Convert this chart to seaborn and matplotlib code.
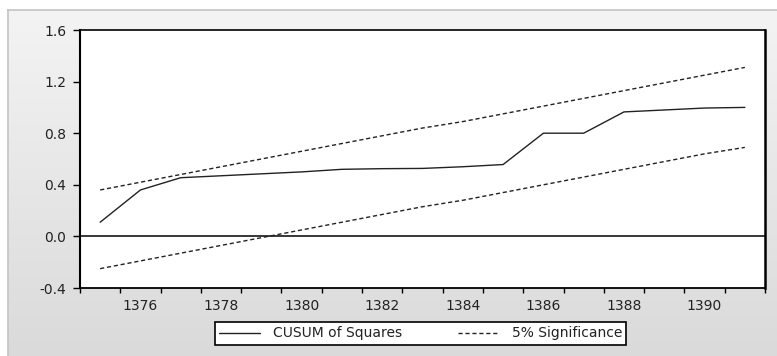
import numpy as np
import pandas as pd
import matplotlib
matplotlib.use("Agg")
import matplotlib.pyplot as plt
import seaborn as sns

# Annual observations (Iranian calendar years)
years = list(range(1375, 1392))
cusum_sq = [0.11, 0.36, 0.455, 0.47, 0.485, 0.50, 0.52, 0.525, 0.527, 0.54, 0.557,
            0.80, 0.80, 0.965, 0.98, 0.995, 1.00]
upper_5pct = [0.36, 0.42, 0.48, 0.54, 0.60, 0.66, 0.72, 0.78, 0.84, 0.89, 0.95,
              1.01, 1.07, 1.13, 1.19, 1.25, 1.31]
lower_5pct = [-0.25, -0.19, -0.13, -0.07, -0.01, 0.05, 0.11, 0.17, 0.23, 0.28, 0.34,
              0.40, 0.46, 0.52, 0.58, 0.64, 0.69]
x_tick_years = [1376, 1378, 1380, 1382, 1384, 1386, 1388, 1390]
y_ticks = [-0.4, 0.0, 0.4, 0.8, 1.2, 1.6]

df = pd.DataFrame({"year": years, "cusum": cusum_sq,
                   "upper": upper_5pct, "lower": lower_5pct})

sns.set_theme(style="white")
plt.rcParams["font.family"] = ["DejaVu Sans"]

W, H = 777, 356
fig = plt.figure(figsize=(W / 100, H / 100), dpi=100)
fig.patch.set_facecolor("white")

# Grey gradient panel behind the graph
bg = fig.add_axes([8 / W, 0, 1 - 8 / W, 1 - 10 / H], zorder=-5)
grad = np.linspace(0.955, 0.855, 256).reshape(-1, 1)
bg.imshow(np.dstack([grad, grad, grad]), aspect="auto", extent=[0, 1, 0, 1],
          origin="upper")
bg.set_xticks([])
bg.set_yticks([])
for side in ("right", "bottom"):
    bg.spines[side].set_visible(False)
for side in ("left", "top"):
    bg.spines[side].set_color("#c4c4c4")
    bg.spines[side].set_linewidth(1.2)

ax = fig.add_axes([80 / W, 1 - 288 / H, 685 / W, 258 / H])
ax.set_facecolor("white")

sns.lineplot(data=df, x="year", y="cusum", ax=ax, color="#222222", lw=1.0,
             label="CUSUM of Squares")
sns.lineplot(data=df, x="year", y="upper", ax=ax, color="#222222", lw=1.0,
             linestyle=(0, (3, 2)), label="5% Significance")
sns.lineplot(data=df, x="year", y="lower", ax=ax, color="#222222", lw=1.0,
             linestyle=(0, (3, 2)), label="_nolegend_")
ax.axhline(0.0, color="black", lw=1.1, zorder=1)

ax.set_xlim(1374.5, 1391.5)
ax.set_ylim(-0.4, 1.6)
ax.set_xticks(x_tick_years)
ax.set_xticklabels([str(y) for y in x_tick_years])
ax.set_xticks(np.arange(1374.5, 1392.0, 1.0), minor=True)
ax.set_yticks(y_ticks)
ax.set_yticklabels([f"{v:.1f}" for v in y_ticks])
ax.set_xlabel("")
ax.set_ylabel("")

ax.tick_params(axis="x", which="major", length=0, pad=8,
               labelsize=10, labelcolor="#222222")
ax.tick_params(axis="x", which="minor", length=3.5, width=1.0,
               color="black", direction="out", bottom=True)
ax.tick_params(axis="y", which="major", length=5, width=1.0, pad=5,
               color="black", direction="out", left=True,
               labelsize=10, labelcolor="#222222")

for side, lw in (("left", 1.5), ("bottom", 1.3), ("top", 1.2), ("right", 1.8)):
    ax.spines[side].set_visible(True)
    ax.spines[side].set_color("black")
    ax.spines[side].set_linewidth(lw)

leg = ax.legend(loc="center", bbox_to_anchor=(420.5 / W, 1 - 333.5 / H),
                bbox_transform=fig.transFigure, ncol=2, frameon=True,
                fancybox=False, edgecolor="black", facecolor="white",
                framealpha=1.0, fontsize=10, handlelength=3.0,
                handletextpad=0.9, columnspacing=4.0, borderpad=0.3,
                borderaxespad=0)
leg.get_frame().set_linewidth(1.2)
for t in leg.get_texts():
    t.set_color("#222222")

fig.savefig("out.png", dpi=100, facecolor=fig.get_facecolor())
